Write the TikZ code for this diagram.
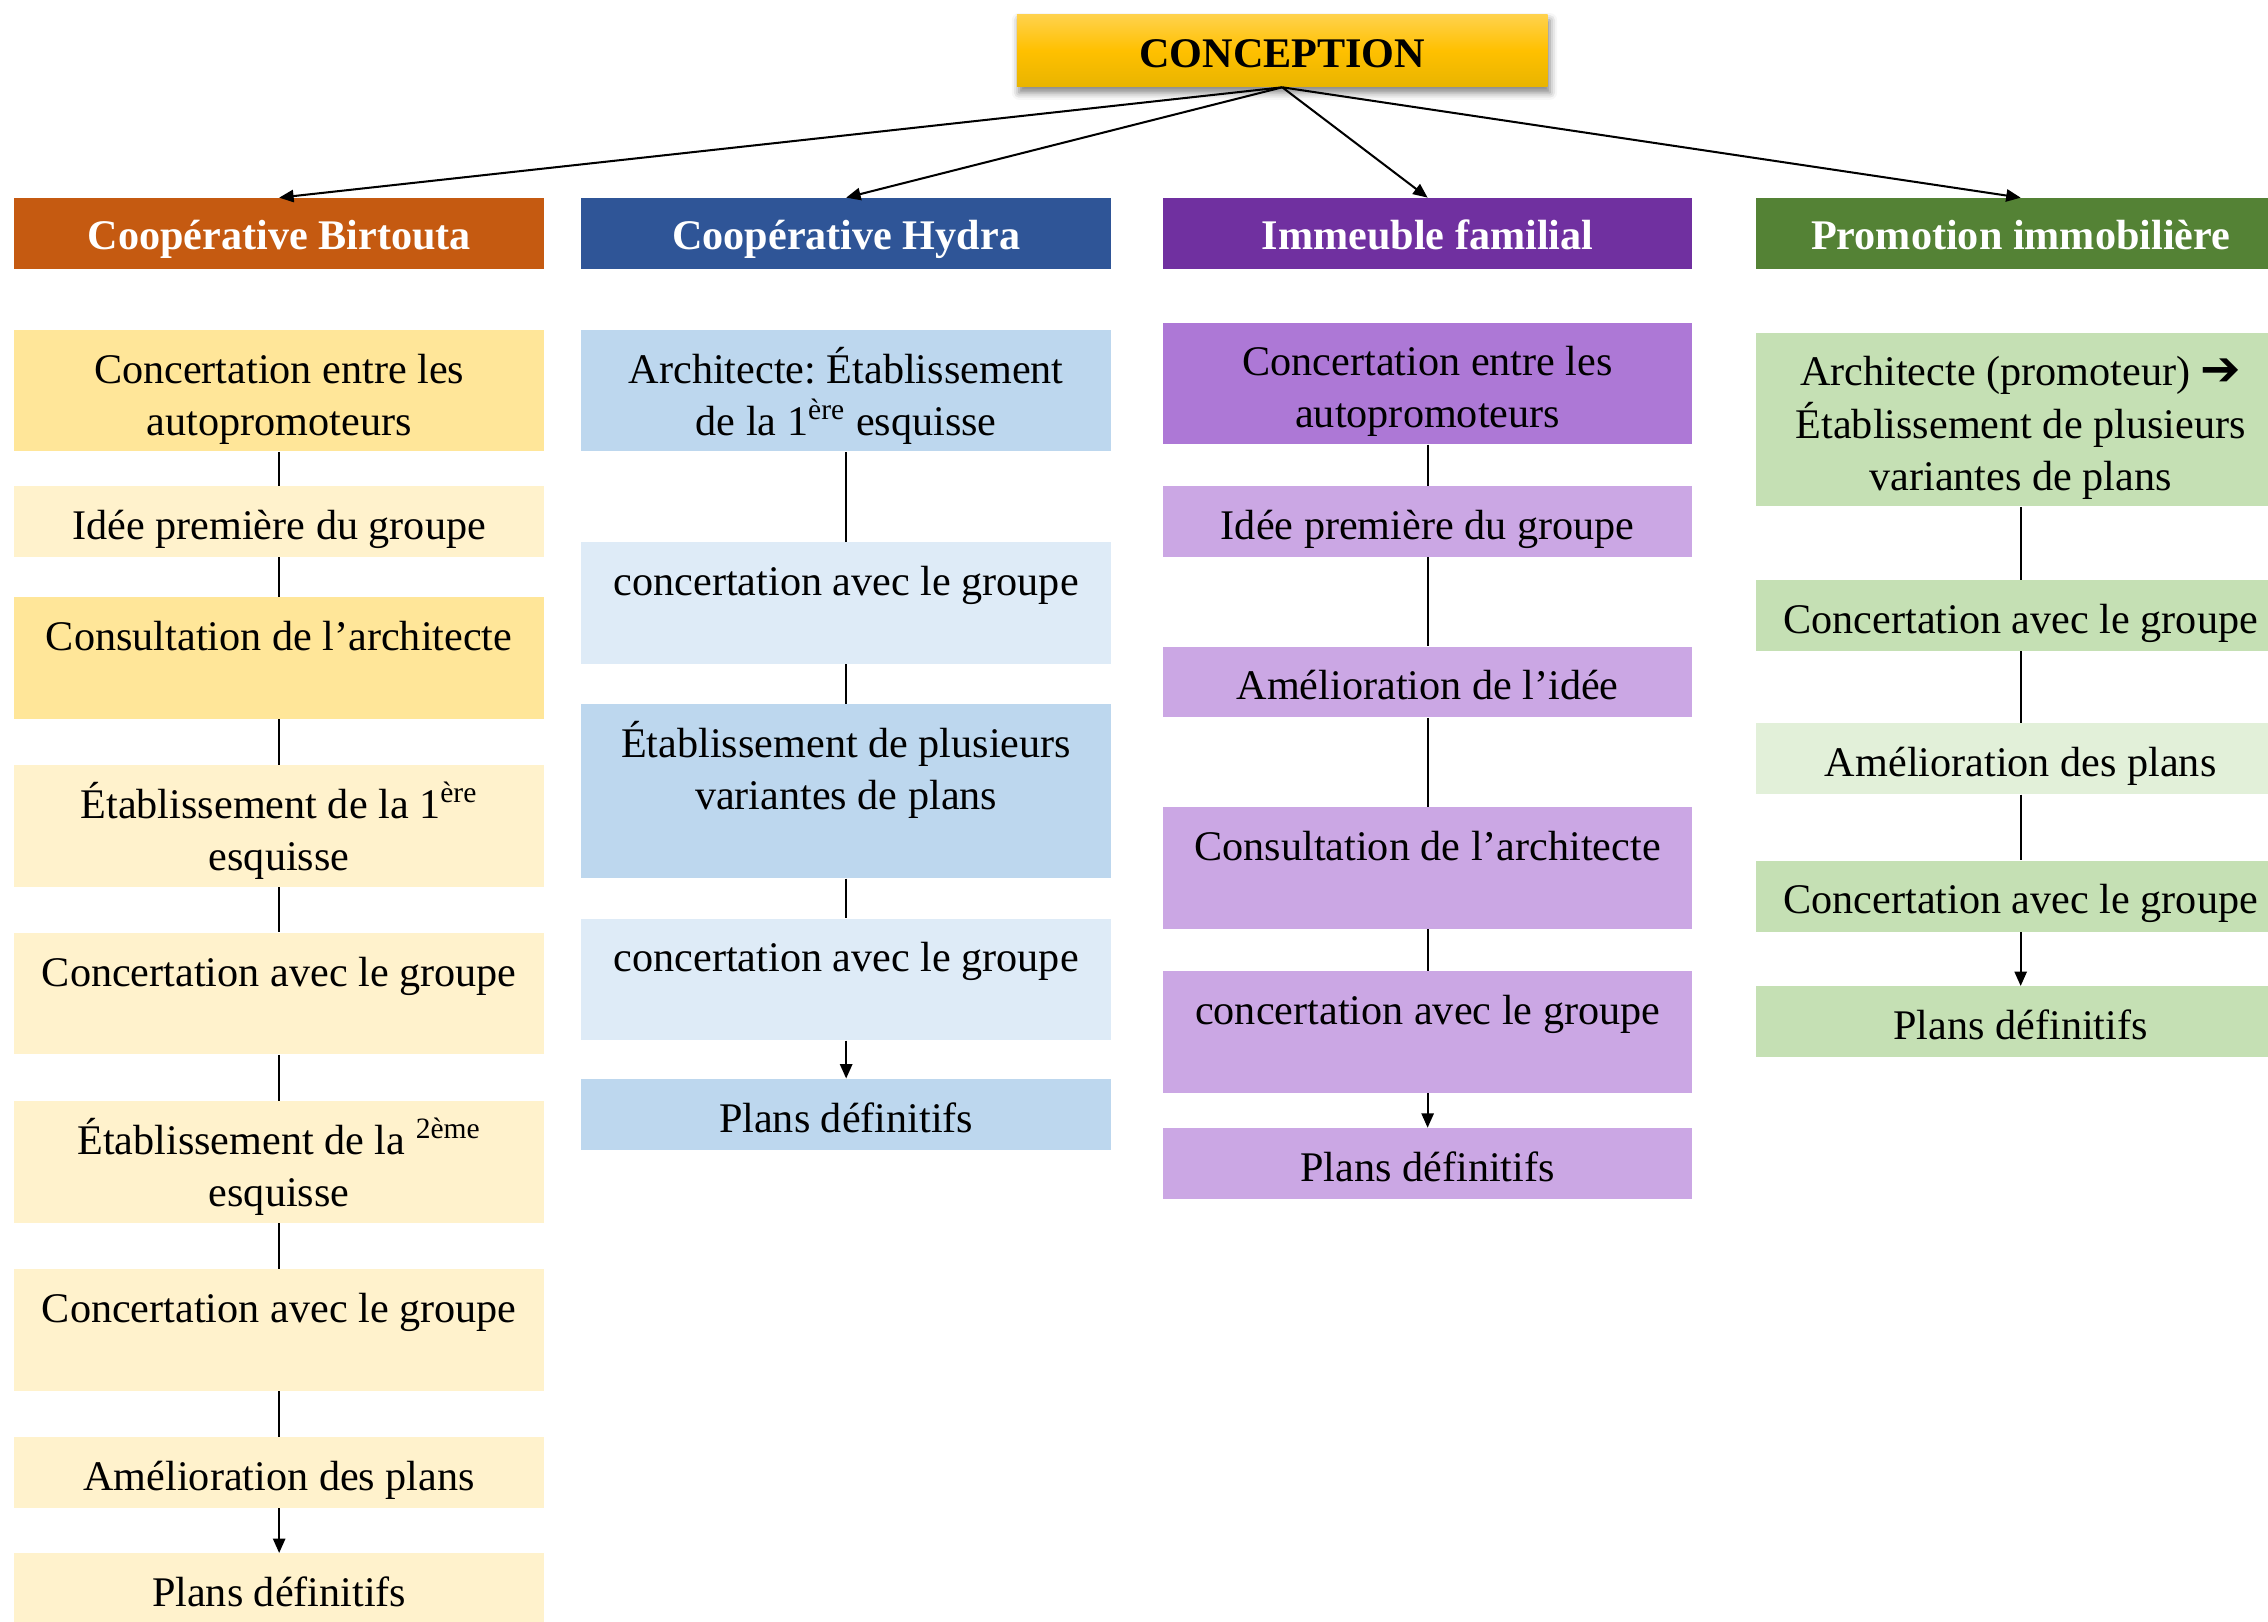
\documentclass[tikz,border=0pt]{standalone}
\usepackage{fontspec}
\setmainfont{Liberation Serif}
\newfontfamily\dejavu{DejaVu Sans}
\usetikzlibrary{arrows.meta,shadows.blur}
\definecolor{birt}{HTML}{C55A11}
\definecolor{hydr}{HTML}{2F5597}
\definecolor{imme}{HTML}{7030A0}
\definecolor{prom}{HTML}{548235}
\definecolor{yelA}{HTML}{FFE699}
\definecolor{yelB}{HTML}{FFF2CC}
\definecolor{bluA}{HTML}{BDD7EE}
\definecolor{bluB}{HTML}{DEEBF7}
\definecolor{purA}{HTML}{AD78D6}
\definecolor{purB}{HTML}{CBA7E4}
\definecolor{grnA}{HTML}{C5E0B4}
\definecolor{grnB}{HTML}{E2F0D9}
\definecolor{goldA}{HTML}{FFD24D}
\definecolor{goldB}{HTML}{FFC000}
\definecolor{goldC}{HTML}{E8B400}
\frenchspacing
\begin{document}
\begin{tikzpicture}[x=0.2mm,y=-0.2mm,
  every node/.style={font=\fontsize{16.6}{20.5}\selectfont},
  cbox/.style={rectangle, inner sep=0pt, minimum width=73.2mm, align=center,
    execute at begin node=\strut, execute at end node=\strut},
  sbox/.style={cbox, minimum height=9.8mm, execute at begin node={\rule{0pt}{20pt}}},
  mbox/.style={cbox, minimum height=16.8mm, execute at begin node={\rule{0pt}{41.3pt}}},
  lbox/.style={cbox, minimum height=24mm, execute at begin node={\rule{0pt}{61.8pt}}},
  hdr/.style={cbox, minimum height=9.8mm, text=white, font=\fontsize{16.6}{20.5}\selectfont\bfseries,
    execute at begin node={\rule{0pt}{19pt}}},
  conn/.style={line width=0.8pt},
  conarrow/.style={line width=0.8pt, -{Triangle[length=2mm,width=1.7mm]}}
]
\useasboundingbox (0,0) rectangle (1568,1121);

% top
\node[cbox, minimum width=73.4mm, minimum height=10mm, top color=goldA, bottom color=goldC, middle color=goldB,
  blur shadow={shadow xshift=0.3mm, shadow yshift=-0.8mm, shadow blur radius=1mm, shadow opacity=50},
  execute at begin node={\rule{0pt}{19.5pt}},
  font=\fontsize{16.6}{20.5}\selectfont\bfseries] (concept) at (886.5,35) {CONCEPTION};

% headers
\node[hdr, fill=birt] (hb) at (193,161.5) {Coopérative Birtouta};
\node[hdr, fill=hydr] (hh) at (585,161.5) {Coopérative Hydra};
\node[hdr, fill=imme] (hi) at (987,161.5) {Immeuble familial};
\node[hdr, fill=prom] (hp) at (1397,161.5) {Promotion immobilière};

\foreach \h in {hb,hh,hi,hp} \draw[conarrow] (concept.south) -- (\h.north);

% column 1
\node[mbox, fill=yelA] (b1) at (193,270) {Concertation entre les\\autopromoteurs};
\node[sbox, fill=yelB] (b2) at (193,360.5) {Idée première du groupe};
\node[mbox, fill=yelA] (b3) at (193,455) {Consultation de l’architecte\\\strut};
\node[mbox, fill=yelB] (b4) at (193,571) {Établissement de la 1\textsuperscript{ère}\\esquisse};
\node[mbox, fill=yelB] (b5) at (193,687) {Concertation avec le groupe\\\strut};
\node[mbox, fill=yelB] (b6) at (193,803.5) {Établissement de la \textsuperscript{2ème}\\esquisse};
\node[mbox, fill=yelB] (b7) at (193,919.5) {Concertation avec le groupe\\\strut};
\node[sbox, fill=yelB] (b8) at (193,1018) {Amélioration des plans};
\node[sbox, fill=yelB] (b9) at (193,1098.5) {Plans définitifs};
\foreach \a/\b in {b1/b2,b2/b3,b3/b4,b4/b5,b5/b6,b6/b7,b7/b8} \draw[conn] (\a.south) -- (\b.north);
\draw[conarrow] (b8.south) -- (b9.north);

% column 2
\node[mbox, fill=bluA] (h1) at (585,270) {Architecte: Établissement\\de la 1\textsuperscript{ère} esquisse};
\node[mbox, fill=bluB] (h2) at (585,417) {concertation avec le groupe\\\strut};
\node[lbox, fill=bluA] (h3) at (585,547) {Établissement de plusieurs\\variantes de plans\\\strut};
\node[mbox, fill=bluB] (h4) at (585,677) {concertation avec le groupe\\\strut};
\node[sbox, fill=bluA] (h5) at (585,770.5) {Plans définitifs};
\foreach \a/\b in {h1/h2,h2/h3,h3/h4} \draw[conn] (\a.south) -- (\b.north);
\draw[conarrow] (h4.south) -- (h5.north);

% column 3
\node[mbox, fill=purA] (i1) at (987,265) {Concertation entre les\\autopromoteurs};
\node[sbox, fill=purB] (i2) at (987,360.5) {Idée première du groupe};
\node[sbox, fill=purB] (i3) at (987,471.5) {Amélioration de l’idée};
\node[mbox, fill=purB] (i4) at (987,600) {Consultation de l’architecte\\\strut};
\node[mbox, fill=purB] (i5) at (987,713.5) {concertation avec le groupe\\\strut};
\node[sbox, fill=purB] (i6) at (987,804.5) {Plans définitifs};
\foreach \a/\b in {i1/i2,i2/i3,i3/i4,i4/i5} \draw[conn] (\a.south) -- (\b.north);
\draw[conarrow] (i5.south) -- (i6.north);

% column 4
\node[lbox, fill=grnA] (p1) at (1397,290) {Architecte (promoteur) {\dejavu\bfseries\fontsize{19}{20.5}\selectfont ➔}\\Établissement de plusieurs\\variantes de plans};
\node[sbox, fill=grnA] (p2) at (1397,425.5) {Concertation avec le groupe};
\node[sbox, fill=grnB] (p3) at (1397,524.5) {Amélioration des plans};
\node[sbox, fill=grnA] (p4) at (1397,619.5) {Concertation avec le groupe};
\node[sbox, fill=grnA] (p5) at (1397,706.5) {Plans définitifs};
\foreach \a/\b in {p1/p2,p2/p3,p3/p4} \draw[conn] (\a.south) -- (\b.north);
\draw[conarrow] (p4.south) -- (p5.north);
\end{tikzpicture}
\end{document}
